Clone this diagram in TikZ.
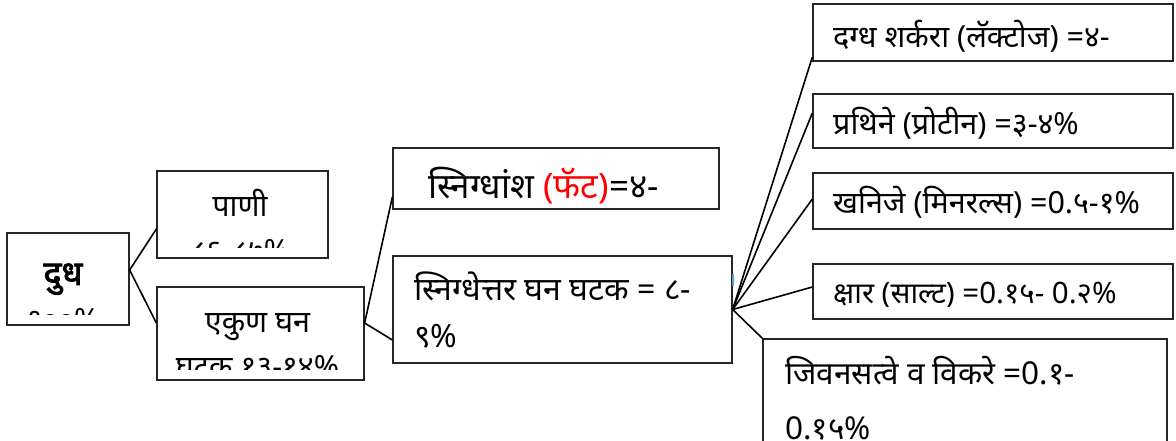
\documentclass[tikz,border=0pt]{standalone}
\usepackage{fontspec}
\newfontfamily\deva[Script=Devanagari]{Noto Sans}
\newfontfamily\devabold[Script=Devanagari,FakeBold=2.6]{Noto Sans}
\usepackage{xcolor}
\definecolor{cursorblue}{HTML}{5B9BD5}

\begin{document}
\begin{tikzpicture}[
  x=1pt, y=-1pt,
  box/.style={draw=black!85, line width=1.3pt, inner sep=0pt},
  txt/.style={font=\deva\fontsize{30.5}{36}\selectfont, inner sep=0pt, anchor=base west},
  ctxt/.style={txt, anchor=base},
  lnk/.style={line width=1.6pt, black},
]
\clip (0,0) rectangle (1176,441);

% ── Boxes ────────────────────────────────────────────────────
\node[box, minimum width=122, minimum height=92]  (dudh) at (68,279)    {};
\node[box, minimum width=171, minimum height=87]  (pani) at (242.5,214.5) {};
\node[box, minimum width=207, minimum height=93]  (ekun) at (260.5,333.5) {};
\node[box, minimum width=326, minimum height=61]  (fat)  at (556,178.5)  {};
\node[box, minimum width=339, minimum height=107] (snf)  at (562.5,309.5) {};
\node[box, minimum width=360, minimum height=57]  (lact) at (993,32.5)   {};
\node[box, minimum width=360, minimum height=54]  (prot) at (993,121)    {};
\node[box, minimum width=360, minimum height=56]  (minr) at (993,201)    {};
\node[box, minimum width=360, minimum height=55]  (salt) at (993,291.5)  {};
\node[box, minimum width=404, minimum height=121] (vit)  at (965,399.5)  {};

% ── Texts (clipped by the boxes) ─────────────────────────────
\begin{scope}
  \clip (dudh.north west) rectangle ([yshift=11pt]dudh.south east);
  \node[ctxt, font=\devabold\fontsize{34}{36}\selectfont] (dudhA) at (63,285) {दुध};
  \node[ctxt] (dudhB) at (63,330) {१००\%};
\end{scope}
\begin{scope}
  \clip (pani.north west) rectangle ([yshift=11pt]pani.south east);
  \node[ctxt] (paniA) at (240,216) {पाणी};
  \node[ctxt] (paniB) at (240,261) {८६-८७\%};
\end{scope}
\begin{scope}
  \clip (ekun.north west) rectangle ([yshift=11pt]ekun.south east);
  \node[ctxt] (ekunA) at (257.5,332) {एकुण घन};
  \node[ctxt] (ekunB) at (257.5,377) {घटक १३-१४\%};
\end{scope}

\node[txt, font=\deva\fontsize{35}{36}\selectfont] (fatT) at (428,199) {स्निग्धांश \textcolor{red}{(फॅट)}=४-};
\node[txt, font=\deva\fontsize{32}{36}\selectfont] (snfA) at (414,300) {स्निग्धेत्तर घन घटक = ८-};
\node[txt, font=\deva\fontsize{32}{36}\selectfont] (snfB) at (414,347) {९\%};

\begin{scope}
  \clip (lact.north west) rectangle ([yshift=8pt]lact.south east);
  \node[txt] (lactT) at (833,48) {दग्ध शर्करा (लॅक्टोज) =४-};
\end{scope}
\begin{scope}
  \clip (prot.north west) rectangle ([yshift=10pt]prot.south east);
  \node[txt] (protT) at (833,135) {प्रथिने (प्रोटीन) =३-४\%};
\end{scope}
\begin{scope}
  \clip (minr.north west) rectangle ([yshift=12pt]minr.south east);
  \node[txt] (minrT) at (833,213) {खनिजे (मिनरल्स) =0.५-१\%};
\end{scope}
\begin{scope}
  \clip (salt.north west) rectangle ([yshift=13pt]salt.south east);
  \node[txt, font=\deva\fontsize{29.5}{36}\selectfont] (saltT) at (833,303) {क्षार (साल्ट) =0.१५- 0.२\%};
\end{scope}
\node[txt, font=\deva\fontsize{31.5}{36}\selectfont] (vitA) at (785,384) {जिवनसत्वे व विकरे =0.१-};
\node[txt, font=\deva\fontsize{31.5}{36}\selectfont] (vitB) at (785,439) {0.१५\%};

% ── Connectors ───────────────────────────────────────────────
\draw[lnk] ([yshift=9pt]dudh.east) -- ([yshift=-14.5pt]pani.west);
\draw[lnk] ([yshift=9pt]dudh.east) -- ([yshift=10.5pt]ekun.west);
\draw[lnk] ([yshift=10.5pt]ekun.east) -- ([yshift=-18.5pt]fat.west);
\draw[lnk] ([yshift=10.5pt]ekun.east) -- ([yshift=-30.5pt]snf.west);
\draw[lnk] (snf.east) -- ([yshift=-24.5pt]lact.west);
\draw[lnk] (snf.east) -- ([yshift=8pt]prot.west);
\draw[lnk] (snf.east) -- ([yshift=2pt]minr.west);
\draw[lnk] (snf.east) -- ([yshift=4.5pt]salt.west);
\draw[lnk] (snf.east) -- (vit.north west);

% stray cursor mark on the box edge
\draw[cursorblue, line width=2pt] ([yshift=36pt]snf.east) -- ([yshift=24pt]snf.east);

\end{tikzpicture}
\end{document}
